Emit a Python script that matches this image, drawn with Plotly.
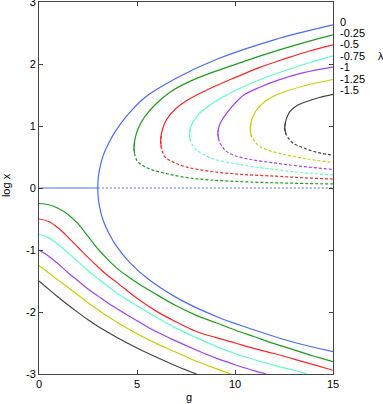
import plotly.graph_objects as go

# lambda values shown on the right, top to bottom
lambdas = ["0", "-0.25", "-0.5", "-0.75", "-1", "-1.25", "-1.5"]
colors = ["#4a6aff", "#1e9e1e", "#ff2525", "#5effc4", "#a040ff", "#c2d400", "#444444"]

# points are (g, log x)
# lambda = 0: trivial branch x = 1 and the bifurcating branch
triv_stable = [(0, 0), (3.0, 0)]
triv_unstable = [(3.0, 0), (15, 0)]
up_0 = [(3.0, 0), (3.02, 0.15), (3.09, 0.3), (3.2, 0.45), (3.37, 0.6), (3.6, 0.75), (3.87, 0.9),
        (4.5, 1.17), (5.4, 1.46), (7.0, 1.77), (9.1, 2.08), (12.0, 2.39), (15, 2.63)]
low_0 = [(3.0, 0), (3.02, -0.15), (3.09, -0.3), (3.2, -0.45), (3.37, -0.6), (3.6, -0.75), (3.87, -0.9),
         (4.62, -1.2), (5.62, -1.48), (7.2, -1.8), (9.26, -2.1), (10.24, -2.21), (12.9, -2.48), (15, -2.64)]

# lambda = -0.25 : upper stable, middle unstable (dashed), lower stable
up_025 = [(4.85, 0.64), (4.865, 0.72), (4.92, 0.82), (5.05, 0.95), (5.4, 1.15), (5.95, 1.35), (6.7, 1.55),
          (7.7, 1.72), (8.8, 1.86), (10, 1.99), (11.3, 2.13), (12.6, 2.26), (13.8, 2.37), (15, 2.47)]
mid_025 = [(4.85, 0.64), (4.872, 0.56), (4.93, 0.49), (5.05, 0.42), (5.55, 0.32), (6.4, 0.24), (7.5, 0.17),
           (8.7, 0.13), (10.5, 0.1), (12.5, 0.08), (15, 0.065)]
low_025 = [(0, -0.25), (0.5, -0.27), (1.0, -0.33), (1.5, -0.43), (2.0, -0.58), (2.5, -0.78), (3.0, -0.98),
           (3.5, -1.15), (4.0, -1.3), (4.5, -1.42), (5.0, -1.53), (6.0, -1.72), (7.0, -1.9), (8.0, -2.05),
           (9.0, -2.17), (10.0, -2.29), (11.0, -2.4), (12.0, -2.51), (13.0, -2.61), (14.0, -2.71), (15, -2.8)]

# lambda = -0.5
up_05 = [(6.21, 0.75), (6.228, 0.84), (6.295, 0.94), (6.5, 1.1), (6.95, 1.27), (7.65, 1.43), (8.7, 1.6),
         (10, 1.78), (11.3, 1.95), (12.6, 2.09), (13.8, 2.21), (15, 2.31)]
mid_05 = [(6.21, 0.75), (6.237, 0.66), (6.305, 0.58), (6.43, 0.5), (6.9, 0.41), (7.5, 0.34), (8.7, 0.27),
          (10.3, 0.22), (12.1, 0.19), (13.5, 0.165), (15, 0.145)]
low_05 = [(0, -0.5), (0.5, -0.54), (1.0, -0.65), (1.5, -0.8), (2.0, -0.96), (2.5, -1.12), (3.0, -1.27),
          (3.5, -1.41), (4.0, -1.53), (5.0, -1.78), (6.0, -1.99), (7.0, -2.16), (8.0, -2.31), (9.0, -2.41),
          (10.0, -2.5), (11.0, -2.59), (12.0, -2.67), (13.0, -2.76), (14.0, -2.85), (15, -2.94)]

# lambda = -0.75
up_075 = [(7.68, 0.86), (7.715, 0.95), (7.83, 1.05), (8.12, 1.18), (8.6, 1.31), (9.3, 1.45), (10.2, 1.6),
          (11.3, 1.75), (12.6, 1.9), (13.8, 2.02), (15, 2.13)]
mid_075 = [(7.68, 0.86), (7.725, 0.77), (7.84, 0.69), (8.0, 0.62), (8.4, 0.54), (9.0, 0.46), (10.4, 0.37),
           (12.0, 0.3), (13.5, 0.245), (15, 0.21)]
low_075 = [(0, -0.75), (0.5, -0.8), (1.0, -0.92), (1.5, -1.05), (2.0, -1.19), (2.5, -1.33), (3.0, -1.46),
           (3.5, -1.58), (4.0, -1.7), (5.0, -1.9), (6.0, -2.09), (7.0, -2.26), (8.0, -2.41), (9.0, -2.55),
           (10.0, -2.67), (11.0, -2.77), (12.0, -2.86), (13.0, -2.94), (13.7, -3.0)]

# lambda = -1
up_1 = [(9.13, 0.87), (9.16, 0.96), (9.27, 1.06), (9.56, 1.2), (9.95, 1.35), (10.45, 1.5), (11.3, 1.63),
        (12.2, 1.74), (13.5, 1.86), (15, 1.95)]
mid_1 = [(9.13, 0.87), (9.17, 0.78), (9.28, 0.7), (9.52, 0.6), (10.0, 0.52), (10.8, 0.46), (12.1, 0.4),
         (13.5, 0.345), (15, 0.3)]
low_1 = [(0, -1.0), (0.5, -1.1), (1.0, -1.23), (1.5, -1.37), (2.0, -1.5), (2.5, -1.63), (3.0, -1.74),
         (3.5, -1.85), (4.0, -1.95), (5.0, -2.14), (6.0, -2.32), (7.0, -2.47), (8.0, -2.61), (9.0, -2.74),
         (10.0, -2.85), (11.0, -2.95), (11.6, -3.0)]

# lambda = -1.25
up_125 = [(10.78, 0.935), (10.805, 1.025), (10.88, 1.125), (11.1, 1.26), (11.54, 1.4), (12.1, 1.5),
          (12.8, 1.58), (13.5, 1.645), (15, 1.75)]
mid_125 = [(10.78, 0.935), (10.84, 0.84), (10.99, 0.76), (11.26, 0.67), (12.11, 0.57), (13.47, 0.48),
           (15, 0.41)]
low_125 = [(0, -1.25), (0.5, -1.37), (1.0, -1.49), (1.5, -1.61), (2.0, -1.73), (2.5, -1.85), (3.0, -1.96),
           (3.5, -2.07), (4.0, -2.17), (5.0, -2.35), (6.0, -2.51), (7.0, -2.65), (8.0, -2.79), (9.0, -2.91),
           (9.8, -3.0)]

# lambda = -1.5
up_15 = [(12.54, 0.96), (12.57, 1.05), (12.66, 1.15), (12.8, 1.23), (13.16, 1.33), (13.7, 1.4),
         (14.3, 1.46), (15, 1.51)]
mid_15 = [(12.54, 0.96), (12.6, 0.87), (12.73, 0.8), (12.96, 0.72), (13.4, 0.66), (13.81, 0.61),
          (14.4, 0.56), (15, 0.53)]
low_15 = [(0, -1.5), (0.5, -1.635), (1.0, -1.765), (1.5, -1.89), (2.0, -2.01), (2.5, -2.125), (3.0, -2.23),
          (3.5, -2.325), (4.0, -2.415), (5.0, -2.58), (6.0, -2.73), (7.0, -2.87), (8.1, -3.01)]

x_ticks = [0, 5, 10, 15]
y_ticks = [-3, -2, -1, 0, 1, 2, 3]
label_y = [2.68, 2.495, 2.318, 2.134, 1.947, 1.758, 1.576]  # where the lambda labels sit

SOLID, DASH, DOT = "solid", "3px,2px", "2px,2px"
folds = [(up_025, mid_025, low_025), (up_05, mid_05, low_05), (up_075, mid_075, low_075),
         (up_1, mid_1, low_1), (up_125, mid_125, low_125), (up_15, mid_15, low_15)]

fig = go.Figure()


def add_curve(pts, col, dash):
    fig.add_trace(go.Scatter(
        x=[p[0] for p in pts], y=[p[1] for p in pts], mode="lines",
        line=dict(color=col, width=1.2, dash=dash, shape="spline", smoothing=1),
        showlegend=False, hoverinfo="skip"))


add_curve(triv_stable, colors[0], SOLID)
add_curve(triv_unstable, colors[0], DOT)
# both halves of the pitchfork through the turning point, so the spline stays vertical there
add_curve(low_0[::-1] + up_0[1:], colors[0], SOLID)

for col, (up, mid, low) in zip(colors[1:], folds):
    # borrow the neighbouring point across the fold so the turn is smooth
    add_curve([mid[1]] + up, col, SOLID)
    add_curve([up[1]] + mid, col, DASH)
    add_curve(low, col, SOLID)

font = dict(family="Liberation Sans, Arial, sans-serif", size=11, color="black")
axis = dict(showline=True, linecolor="#444444", linewidth=1, mirror="allticks",
            ticks="inside", ticklen=4, tickcolor="#444444", showgrid=False, zeroline=False,
            tickfont=font, automargin=False, ticklabeloverflow="allow")

fig.update_layout(
    template="none",
    width=383, height=404,
    margin=dict(l=39, r=50, t=2, b=30),
    paper_bgcolor="white", plot_bgcolor="white",
    font=font,
    xaxis=dict(range=[0, 15], tickvals=x_ticks, ticktext=[str(v) for v in x_ticks], **axis),
    yaxis=dict(range=[-3, 3], tickvals=y_ticks, ticktext=[str(v) for v in y_ticks], **axis),
)

for lab, yv in zip(lambdas, label_y):
    fig.add_annotation(x=1.017, y=yv, xref="paper", yref="y", text=lab, showarrow=False,
                       xanchor="left", yanchor="middle", font=font)
fig.add_annotation(x=1.146, y=2.134, xref="paper", yref="y", text="λ", showarrow=False,
                   xanchor="left", yanchor="middle", font=font)
fig.add_annotation(x=-0.112, y=0.508, xref="paper", yref="paper", text="log x", showarrow=False,
                   textangle=-90, xanchor="center", yanchor="middle", font=font)
fig.add_annotation(x=0.511, y=-0.062, xref="paper", yref="paper", text="g", showarrow=False,
                   xanchor="center", yanchor="middle", font=font)

# the page's default 8px body margin would shift the whole figure
fig.write_html("out.html", config={"displayModeBar": False},
               post_script="document.body.style.margin = '0';")
